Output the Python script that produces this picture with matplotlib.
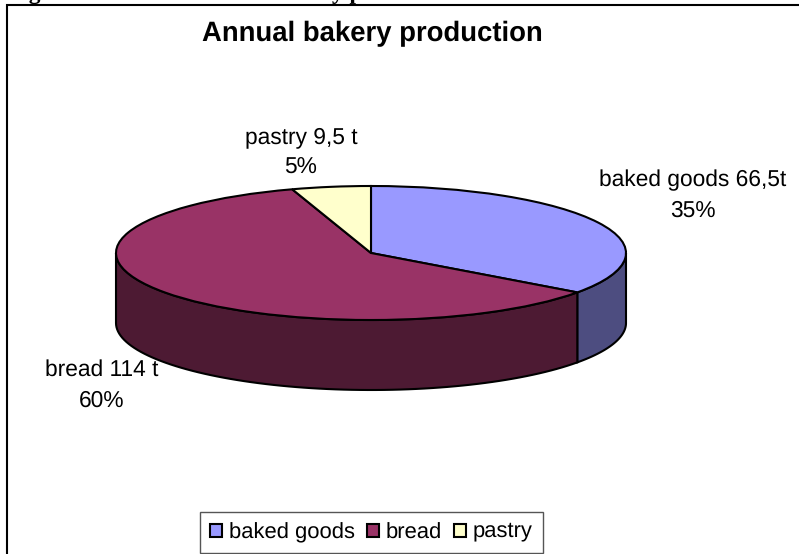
import matplotlib
matplotlib.use("Agg")
import matplotlib.pyplot as plt
from matplotlib.patches import Polygon, Rectangle
import numpy as np

labels = ["baked goods", "bread", "pastry"]
tonnes = [66.5, 114, 9.5]
tonne_labels = ["66,5t", "114 t", "9,5 t"]
percent_labels = ["35%", "60%", "5%"]
top_colors = ["#9999FF", "#993366", "#FFFFCC"]
side_colors = ["#4D4D80", "#4D1A33", "#808066"]

W, H = 799, 554
cx, cy, rx, ry, depth = 371, 253, 255, 67, 70

plt.rcParams["font.family"] = ["Liberation Sans", "DejaVu Sans"]
plt.rcParams["text.hinting"] = "none"

fig = plt.figure(figsize=(W / 100, H / 100), dpi=100)
ax = fig.add_axes([0, 0, 1, 1])

def px(x, y):
    return x / W, 1 - y / H

# sides of the cake first, only the front half can be seen
edges = np.cumsum([0] + tonnes) / sum(tonnes) * 360
drop = depth / ry
for i in range(len(tonnes)):
    a0 = max(edges[i], 90)
    a1 = min(edges[i + 1], 270)
    if a1 <= a0:
        continue
    t = np.radians(np.linspace(a0, a1, 80))
    xs = np.sin(t)
    ys = np.cos(t)
    pts = np.r_[np.c_[xs, ys], np.c_[xs[::-1], ys[::-1] - drop]]
    ax.add_patch(Polygon(pts, closed=True, fc=side_colors[i], ec="black", lw=1.5, zorder=1))

# top surface
wedges, _ = ax.pie(tonnes, colors=top_colors, startangle=90, counterclock=False, frame=True,
                   wedgeprops=dict(edgecolor="black", linewidth=1.5))
for w in wedges:
    w.set_zorder(2)

ax.set_aspect("auto")
ax.set_xlim((0 - cx) / rx, (W - cx) / rx)
ax.set_ylim((cy - H) / ry, cy / ry)
ax.set_xticks([])
ax.set_yticks([])
for s in ax.spines.values():
    s.set_visible(False)

# chart frame, runs off the bottom and right
x0, y0 = px(6.5, H + 5)
x1, y1 = px(W + 5, 5)
fig.add_artist(Rectangle((x0, y0), x1 - x0, y1 - y0, transform=fig.transFigure, fc="none", ec="black", lw=1.5))

# caption line above the frame, only the descenders show in the picture
fig.text(*px(8, 0), "Figure 1. The total annual bakery production", family="Liberation Serif", weight="bold",
         fontsize=16.8, va="baseline", ha="left")

fig.text(*px(372, 34), "Annual bakery production", weight="bold", fontsize=19.8, ha="center", va="center")

fig.text(*px(693, 196), "%s %s\n%s" % (labels[0], tonne_labels[0], percent_labels[0]),
         fontsize=16.4, ha="center", va="center", linespacing=1.55)
fig.text(*px(102, 385.5), "%s %s\n%s" % (labels[1], tonne_labels[1], percent_labels[1]),
         fontsize=16.4, ha="center", va="center", linespacing=1.55)
fig.text(*px(301, 153), "%s %s\n%s" % (labels[2], tonne_labels[2], percent_labels[2]),
         fontsize=16.4, ha="center", va="center", linespacing=1.55)

leg = ax.legend(wedges, labels, loc="center", bbox_to_anchor=px(371.5, 532.5), bbox_transform=fig.transFigure,
                ncol=3, fontsize=15.8, frameon=True, fancybox=False, edgecolor="#555555", framealpha=1,
                handlelength=0.55, handleheight=0.55, handletextpad=0.3, columnspacing=0.55, borderpad=0.45,
                borderaxespad=0)
# legend packing leaves the words on slightly different baselines
leg.get_texts()[1].set_y(-1)
leg.get_texts()[2].set_y(2)

fig.savefig("out.png", dpi=100)
